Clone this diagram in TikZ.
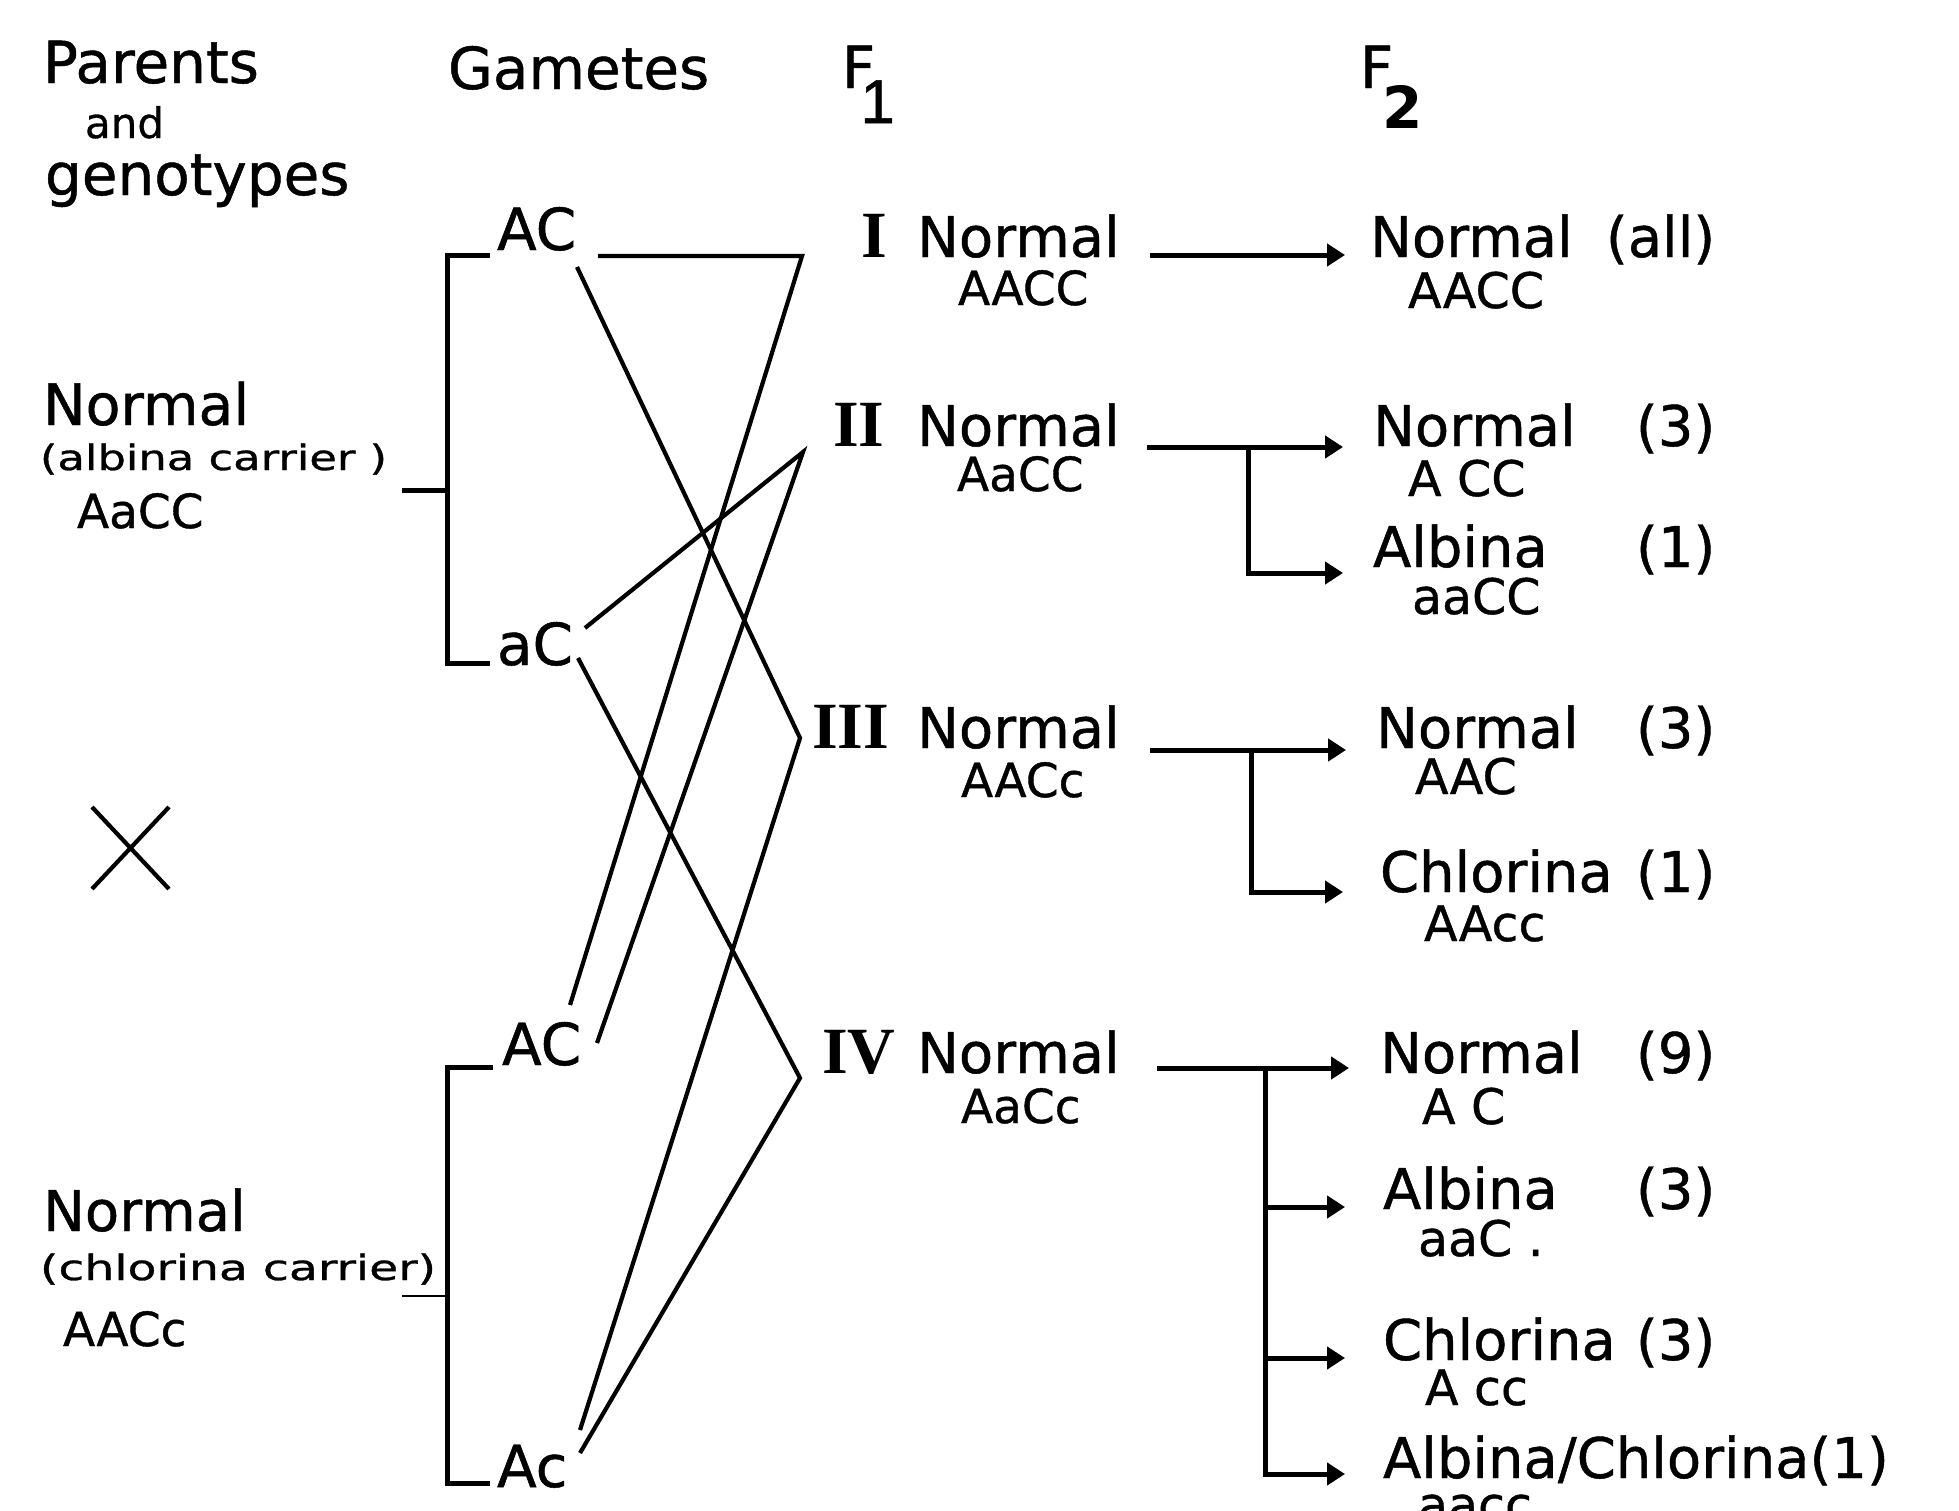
\documentclass[tikz,border=0pt]{standalone}
\usepackage{fontspec}
\setmainfont{DejaVu Sans}[UprightFeatures={FakeBold=0.8}]
\newfontfamily\numfont{Liberation Serif}
\newfontfamily\onefont{Liberation Sans}[FakeBold=0.8]
\usetikzlibrary{arrows.meta}
\newcommand\fsz[1]{\fontsize{#1}{#1}\selectfont}
\newcommand\wbox[2]{\resizebox{#1pt}{\height}{#2}}
\begin{document}
\begin{tikzpicture}[x=1pt,y=-1pt,
  lbl/.style={anchor=base west,inner sep=0pt,outer sep=0pt},
  head/.style={lbl,font=\fsz{58}},
  big/.style={lbl,font=\fsz{56}},
  geno/.style={lbl,font=\fsz{49}},
  genos/.style={lbl,font=\fsz{47}},
  roman/.style={lbl,font=\numfont\bfseries\fsz{66}},
  gline/.style={line width=4.2pt},
  brk/.style={line width=5pt},
  arr/.style={line width=5pt,-{Triangle[length=18pt,width=22pt]}},
]
\fill[white] (0,0) rectangle (1959,1510);
\useasboundingbox (0,0) rectangle (1959,1510);

% headings
\node[head] (parents) at (43,83) {Parents};
\node[lbl,font=\fsz{42}] (and) at (85,138) {and};
\node[head] (genotypes) at (45,195) {genotypes};
\node[head] (gametes) at (448,89) {Gametes};
\node[lbl] (hF1) at (842,88) {\fsz{58}F\kern-15pt\raisebox{-35pt}{\onefont\fsz{62}1}};
\node[lbl] (hF2) at (1360,88) {\fsz{58}F\kern-11pt\raisebox{-40pt}{\bfseries 2}};

% parents
\node[lbl,font=\fsz{57}] (pN1) at (43,425) {Normal};
\node[lbl,font=\fsz{35}] (pC1) at (40,470) {\wbox{347}{(albina carrier )}};
\node[genos] (pG1) at (77,528) {AaCC};
\node[lbl,font=\fsz{56}] (pN2) at (43,1231) {Normal};
\node[lbl,font=\fsz{35}] (pC2) at (40,1280) {\wbox{396}{(chlorina carrier)}};
\node[genos] (pG2) at (63,1346) {AACc};
\draw[line width=4.2pt] (92,807) -- (169,889) (92,889) -- (169,807);

% gametes
\node[head] (gAC1) at (497,250) {AC};
\node[head] (gaC) at (497,665) {aC};
\node[head] (gAC2) at (502,1065) {AC};
\node[head] (gAc) at (497,1487) {Ac};

% brackets
\coordinate (bu1) at (490,255); \coordinate (bu2) at (490,663); \coordinate (bum) at (402,490);
\coordinate (bl1) at (493,1067); \coordinate (bl2) at (490,1483); \coordinate (blm) at (402,1296);
\draw[brk] (bu1) -- (447,255) -- (447,663) -- (bu2);
\draw[brk] (bum) -- (447,490);
\draw[brk] (bl1) -- (447,1067) -- (447,1483) -- (bl2);
\draw[line width=2.8pt] (blm) -- (447,1296);

% F1 vertices and gamete lines
\coordinate (vI) at (802,256);
\coordinate (vII) at (803,452);
\coordinate (vIII) at (800,738);
\coordinate (vIV) at (800,1078);
\coordinate (sAC1h) at (598,256);
\coordinate (sAC1d) at (577,267);
\coordinate (saCu) at (585,628);
\coordinate (saCd) at (578,658);
\coordinate (sAC2u) at (570,1005);
\coordinate (sAC2r) at (597,1043);
\coordinate (sAcu) at (580,1430);
\coordinate (sAcd) at (580,1453);
\draw[gline] (sAC1h) -- (vI) -- (sAC2u);
\draw[gline] (saCu) -- (vII) -- (sAC2r);
\draw[gline] (sAC1d) -- (vIII) -- (sAcu);
\draw[gline] (saCd) -- (vIV) -- (sAcd);

% F1 labels
\node[roman] (rI) at (861,257) {I};
\node[roman] (rII) at (833,446) {II};
\node[roman] (rIII) at (812,748) {III};
\node[roman] (rIV) at (822,1073) {IV};
\node[big] (nI) at (917,257) {Normal};
\node[big] (nII) at (917,446) {Normal};
\node[big] (nIII) at (917,748) {Normal};
\node[big] (nIV) at (917,1073) {Normal};
\node[genos] (gI) at (958,305) {AACC};
\node[genos] (gII) at (957,491) {AaCC};
\node[genos] (gIII) at (961,797) {AACc};
\node[genos] (gIV) at (961,1123) {AaCc};

% F2 labels
\node[big] (oI) at (1370,257) {\makebox[236pt][l]{Normal}(all)};
\node[big] (oIIa) at (1373,446) {\makebox[263pt][l]{Normal}(3)};
\node[big] (oIIb) at (1373,567) {\makebox[263pt][l]{Albina}(1)};
\node[big] (oIIIa) at (1376,748) {\makebox[260pt][l]{Normal}(3)};
\node[big] (oIIIb) at (1380,892) {\makebox[256pt][l]{Chlorina}(1)};
\node[big] (oIVa) at (1380,1073) {\makebox[256pt][l]{Normal}(9)};
\node[big] (oIVb) at (1383,1209) {\makebox[253pt][l]{Albina}(3)};
\node[big] (oIVc) at (1383,1360) {\makebox[253pt][l]{Chlorina}(3)};
\node[big] (oIVd) at (1383,1478) {Albina/Chlorina(1)};
\node[geno] (kI) at (1408,308) {AACC};
\node[geno] (kIIa) at (1408,496) {A CC};
\node[geno] (kIIb) at (1412,614) {aaCC};
\node[geno] (kIIIa) at (1415,794) {AAC};
\node[geno] (kIIIb) at (1424,941) {AAcc};
\node[geno] (kIVa) at (1422,1124) {A C};
\node[geno] (kIVb) at (1418,1256) {aaC .};
\node[geno] (kIVc) at (1425,1405) {A cc};
\node[geno] (kIVd) at (1418,1522) {aacc};

% arrows
\coordinate (aIs) at (1150,255); \coordinate (aIe) at (1345,255);
\draw[arr] (aIs) -- (aIe);
\coordinate (aIIs) at (1147,447); \coordinate (aIIe) at (1343,447);
\coordinate (bII) at (1248,447); \coordinate (bIIe) at (1343,573);
\draw[arr] (aIIs) -- (aIIe);
\draw[arr] (bII) |- (bIIe);
\coordinate (aIIIs) at (1150,750); \coordinate (aIIIe) at (1346,750);
\coordinate (bIII) at (1251,750); \coordinate (bIIIe) at (1343,892);
\draw[arr] (aIIIs) -- (aIIIe);
\draw[arr] (bIII) |- (bIIIe);
\coordinate (aIVs) at (1157,1068); \coordinate (aIVe) at (1349,1068);
\coordinate (bIV) at (1265,1068);
\coordinate (bIVb) at (1345,1207); \coordinate (bIVc) at (1345,1358); \coordinate (bIVd) at (1345,1474);
\draw[arr] (aIVs) -- (aIVe);
\draw[arr] (bIV) |- (bIVb);
\draw[arr] (bIV) |- (bIVc);
\draw[arr] (bIV) |- (bIVd);
\end{tikzpicture}
\end{document}
